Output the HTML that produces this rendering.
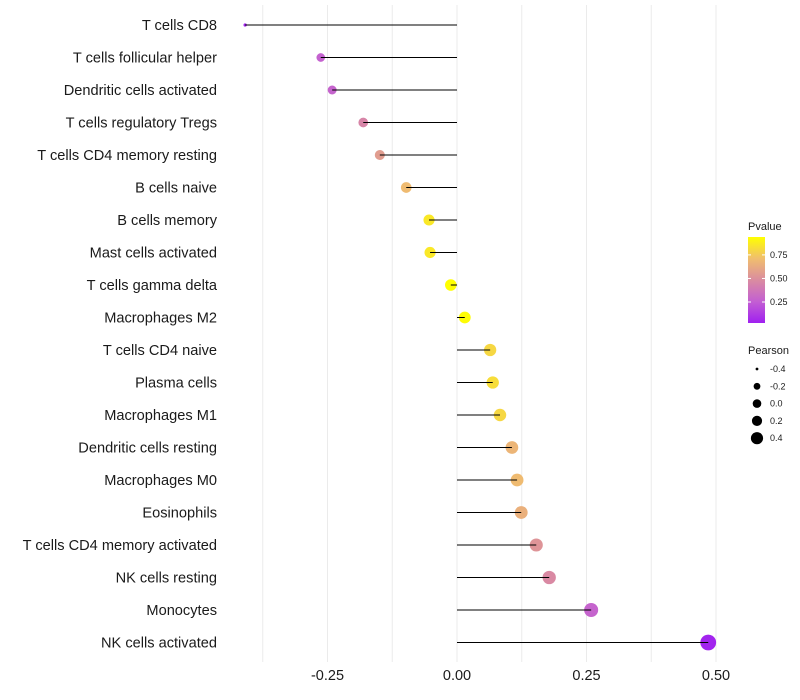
<!DOCTYPE html>
<html><head><meta charset="utf-8"><style>
body{margin:0;background:#fff;}
svg{display:block;font-family:"Liberation Sans",sans-serif;}
</style></head><body>
<svg id="chart" width="800" height="700"></svg>
<script>
const categories=["T cells CD8","T cells follicular helper","Dendritic cells activated","T cells regulatory  Tregs ","T cells CD4 memory resting","B cells naive","B cells memory","Mast cells activated","T cells gamma delta","Macrophages M2","T cells CD4 naive","Plasma cells","Macrophages M1","Dendritic cells resting","Macrophages M0","Eosinophils","T cells CD4 memory activated","NK cells resting","Monocytes","NK cells activated"];
const pearson=[-0.409,-0.263,-0.241,-0.181,-0.149,-0.098,-0.054,-0.052,-0.012,0.015,0.064,0.069,0.083,0.106,0.116,0.124,0.153,0.178,0.259,0.485];
const pvalue=[0.04,0.27,0.28,0.45,0.56,0.7,0.86,0.86,0.94,0.93,0.8,0.82,0.8,0.67,0.7,0.65,0.52,0.47,0.28,0.04];
const xTicks=[-0.25,0,0.25,0.5];
const xTickLabels=["-0.25","0.00","0.25","0.50"];
const pTicks=[0.25,0.5,0.75];
const sizeBreaks=[-0.4,-0.2,0.0,0.2,0.4];
const sizeBreakRadii=[1.4,3.4,4.3,5.1,6.1];

const NS="http://www.w3.org/2000/svg";
const svg=document.getElementById('chart');
function mk(tag,attrs,parent){const e=document.createElementNS(NS,tag);for(const k in attrs)e.setAttribute(k,attrs[k]);(parent||svg).appendChild(e);return e;}
const x=v=>457+v*518;
const y=i=>25+i*32.5;
const pMin=0.027,pMax=0.94;
const stops=[[0,[160,32,240]],[0.25,[195,95,210]],[0.5,[218,140,160]],[0.75,[240,190,110]],[1,[255,255,0]]];
function col(p){let t=(p-pMin)/(pMax-pMin);t=Math.max(0,Math.min(1,t));for(let k=1;k<stops.length;k++){if(t<=stops[k][0]){const a=stops[k-1],b=stops[k];const f=(t-a[0])/(b[0]-a[0]);const c=a[1].map((v,j)=>Math.round(v+(b[1][j]-v)*f));return `rgb(${c})`;}}return 'rgb(255,255,0)';}
function r(v){let a2;if(v<-0.263){a2=2.25+(v+0.41)/0.147*13.75;}else{a2=16+(v+0.263)*50;}return 1.08*Math.sqrt(Math.max(1,a2));}

for(let g=-0.375;g<=0.5001;g+=0.125){const l=mk('line',{x1:x(g),x2:x(g),y1:5,y2:662,stroke:'#ebebeb','stroke-width':1});}
xTicks.forEach((v,i)=>{const t=mk('text',{x:x(v),y:680,'text-anchor':'middle','font-size':14.5,fill:'#1a1a1a'});t.textContent=xTickLabels[i];});
categories.forEach((c,i)=>{
 const t=mk('text',{x:217,y:y(i)+5,'text-anchor':'end','font-size':14.6,fill:'#1a1a1a'});t.textContent=c;
 t.setAttribute('xml:space','preserve');
 
 const d=mk('circle',{cx:x(pearson[i]),cy:y(i),r:r(pearson[i]),fill:col(pvalue[i])});
 
 const l=mk('line',{x1:x(pearson[i]),x2:x(0),y1:y(i),y2:y(i),stroke:'#000','stroke-width':1});
 
});
const lt=mk('text',{x:748,y:230,'font-size':11,fill:'#1a1a1a'});lt.textContent='Pvalue';
const defs=mk('defs',{});const gr=mk('linearGradient',{id:'pg',x1:0,y1:1,x2:0,y2:0},defs);
stops.forEach(s=>mk('stop',{offset:s[0],'stop-color':`rgb(${s[1]})`},gr));
const bar=mk('rect',{x:748,y:237,width:17,height:86,fill:'url(#pg)'});
const py=p=>323-(p-pMin)/(pMax-pMin)*86;
pTicks.forEach(p=>{mk('line',{x1:748,x2:751,y1:py(p),y2:py(p),stroke:'#fff'});mk('line',{x1:762,x2:765,y1:py(p),y2:py(p),stroke:'#fff'});const t=mk('text',{x:770,y:py(p)+3,'font-size':9,fill:'#1a1a1a'});t.textContent=p.toFixed(2);});
const st=mk('text',{x:748,y:354,'font-size':11,fill:'#1a1a1a'});st.textContent='Pearson';
sizeBreaks.forEach((b,i)=>{const cy=369+i*17.3;const c=mk('circle',{cx:757,cy:cy,r:sizeBreakRadii[i],fill:'#000'});const t=mk('text',{x:770,y:cy+3,'font-size':9,fill:'#1a1a1a'});t.textContent=b.toFixed(1);});
</script>
</body></html>
